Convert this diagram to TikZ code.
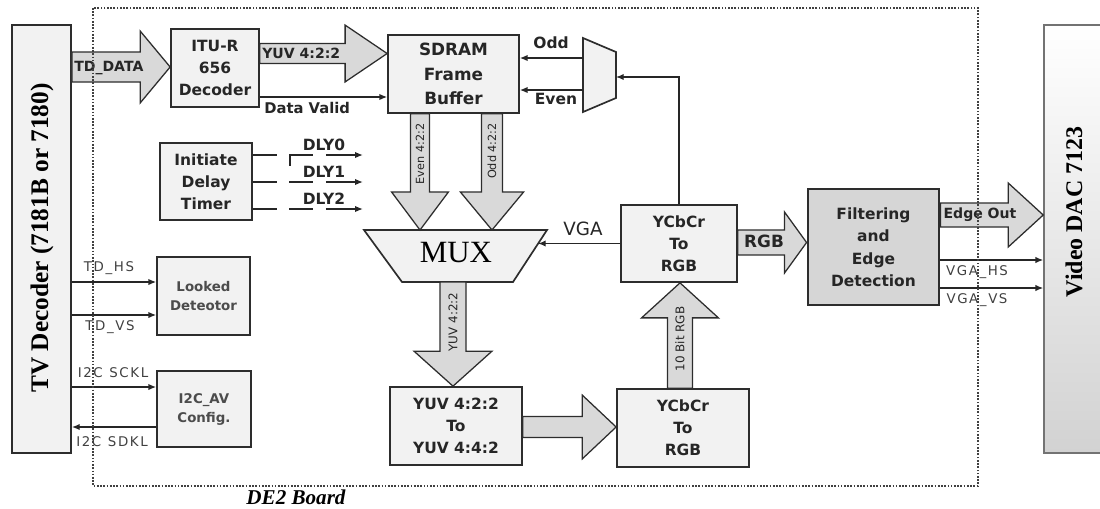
\documentclass[tikz,border=0pt]{standalone}
\usepackage{fontspec}
\setmainfont{Liberation Serif}
\newfontfamily\blkfont{DejaVu Sans}
\newfontfamily\thinfont[LetterSpace=12]{DejaVu Sans}
\usetikzlibrary{arrows.meta, calc}
\definecolor{blkgray}{RGB}{242, 242, 242}
\definecolor{arrgray}{RGB}{217, 217, 217}
\definecolor{filtgray}{RGB}{214, 214, 214}
\definecolor{edgegray}{RGB}{45, 45, 45}
\definecolor{dacgray}{RGB}{210, 210, 210}

\begin{document}
\begin{tikzpicture}[x=0.025cm, y=-0.025cm, >={Latex[length=5.5pt, width=4.5pt]},
    blk/.style={draw=edgegray, line width=1.2pt, fill=blkgray, align=center, inner sep=0pt,
        text=black!85, font=\blkfont\bfseries\fontsize{11}{15.5}\selectfont},
    sig/.style={->, line width=0.9pt, draw=black!85},
    lbl/.style={inner sep=0pt, text=black!85, font=\blkfont\bfseries\fontsize{10}{12}\selectfont},
    tlbl/.style={inner sep=0pt, text=black!75, font=\thinfont\fontsize{9.5}{11}\selectfont},
    rlbl/.style={inner sep=0pt, rotate=90, text=black!85, font=\blkfont\fontsize{8}{9}\selectfont},
    fatarr/.style={draw=edgegray, line width=0.9pt, fill=arrgray, line join=miter},
    fat/.style n args={3}{to path={
        ($(\tikztostart)!#1!90:(\tikztotarget)$)
        -- ($(\tikztotarget)!#3!(\tikztostart)!#1!-90:(\tikztostart)$)
        -- ($(\tikztotarget)!#3!(\tikztostart)!#2!-90:(\tikztostart)$)
        -- (\tikztotarget)
        -- ($(\tikztotarget)!#3!(\tikztostart)!#2!90:(\tikztostart)$)
        -- ($(\tikztotarget)!#3!(\tikztostart)!#1!90:(\tikztostart)$)
        -- ($(\tikztostart)!#1!-90:(\tikztotarget)$) -- cycle}}]

\useasboundingbox (0,0) rectangle (1100,508);
\clip (0,0) rectangle (1100,508);

% ============================================================
% EXTREMOS: decodificador de TV y DAC de video
% ============================================================

\node[draw=edgegray, line width=1.3pt, fill=blkgray, inner sep=0pt,
      minimum width=1.475cm, minimum height=10.7cm] (tvdec) at (41.5,239) {};
\node[rotate=90, font=\bfseries\fontsize{18}{20}\selectfont] (tvlbl) at (42,238)
    {TV Decoder (7181B or 7180)};

\node[draw=black!55, line width=1.1pt, top color=white, bottom color=dacgray, inner sep=0pt,
      minimum width=1.6cm, minimum height=10.7cm] (dac) at (1076,239) {};
\node[rotate=90, font=\bfseries\fontsize{17}{19}\selectfont] (daclbl) at (1074,212)
    {Video DAC 7123};

% ============================================================
% BLOQUES
% ============================================================

\node[blk, minimum width=2.2cm, minimum height=1.95cm] (itu) at (215,68) {ITU-R\\656\\Decoder};
\node[blk, minimum width=3.275cm, minimum height=1.95cm,
      font=\blkfont\bfseries\fontsize{12}{17.5}\selectfont] (sdram) at (453.5,74) {SDRAM\\Frame\\Buffer};
\node[blk, minimum width=2.3cm, minimum height=1.925cm] (timer) at (206,181.5) {Initiate\\Delay\\Timer};
\node[blk, minimum width=2.325cm, minimum height=1.95cm, text=black!70,
      font=\blkfont\bfseries\fontsize{9.5}{14}\selectfont] (lock) at (203.5,296) {Looked\\Deteotor};
\node[blk, minimum width=2.35cm, minimum height=1.9cm, text=black!70,
      font=\blkfont\bfseries\fontsize{9.5}{13.5}\selectfont] (i2c) at (204,409) {I2C\_AV\\Config.};
\node[blk, minimum width=2.9cm, minimum height=1.925cm] (ycca) at (679,243.5) {YCbCr\\To\\RGB};
\node[blk, minimum width=3.3cm, minimum height=1.95cm] (yuvc) at (456,426) {YUV 4:2:2\\To\\YUV 4:4:2};
\node[blk, minimum width=3.3cm, minimum height=1.95cm] (yccb) at (683,428) {YCbCr\\To\\RGB};
\node[blk, fill=filtgray, line width=2pt, minimum width=3.275cm, minimum height=2.9cm,
      font=\blkfont\bfseries\fontsize{11}{16}\selectfont] (filt) at (873.5,247)
    {Filtering\\and\\Edge\\Detection};

% Demultiplexor par/impar
\draw[draw=edgegray, line width=1.2pt, fill=blkgray]
    (583,38) -- (616,52) -- (616,98) -- (583,112) -- cycle;
\coordinate (dmxodd) at (583,58);
\coordinate (dmxeven) at (583,90);
\coordinate (dmxin) at (616,77);

% MUX
\draw[draw=edgegray, line width=1.2pt, fill=blkgray]
    (364,230) -- (547,230) -- (513,282) -- (402,282) -- cycle;
\node[font=\fontsize{22}{24}\selectfont] (mux) at (456,253) {MUX};
\coordinate (muxr) at (538,243.5);

% ============================================================
% FLECHAS ANCHAS (buses)
% ============================================================

\draw[fatarr] (tvdec.east |- 0,67) to[fat={0.375cm}{0.9cm}{0.75cm}] (itu.west |- 0,67);
\draw[fatarr] (itu.east |- 0,53.5) to[fat={0.25cm}{0.71cm}{1.05cm}] (sdram.west |- 0,53.5);
\draw[fatarr] (sdram.south -| 420,0) to[fat={0.24cm}{0.71cm}{0.95cm}] (420,230);
\draw[fatarr] (sdram.south -| 492,0) to[fat={0.26cm}{0.79cm}{0.95cm}] (492,230);
\draw[fatarr] (453,282) to[fat={0.325cm}{0.975cm}{0.875cm}] (yuvc.north -| 453,0);
\draw[fatarr] (yuvc.east |- 0,427) to[fat={0.26cm}{0.8cm}{0.85cm}] (yccb.west |- 0,427);
\draw[fatarr] (yccb.north -| 680,0) to[fat={0.31cm}{0.96cm}{0.875cm}] (ycca.south -| 680,0);
\draw[fatarr] (ycca.east |- 0,242.5) to[fat={0.31cm}{0.76cm}{0.55cm}] (filt.west |- 0,242.5);
\draw[fatarr] (filt.east |- 0,215) to[fat={0.3cm}{0.8cm}{0.875cm}] (dac.west |- 0,215);

% Etiquetas de buses
\node[lbl, anchor=west] (lbltd) at (74,68) {TD\_DATA};
\node[lbl, anchor=west] (lblyuv) at (262,53) {YUV 4:2:2};
\node[rlbl] (lbleven) at (420,154) {Even 4:2:2};
\node[rlbl] (lblodd) at (492,151) {Odd 4:2:2};
\node[rlbl, font=\blkfont\fontsize{8.5}{10}\selectfont] (lblmux) at (453,322) {YUV 4:2:2};
\node[rlbl, font=\blkfont\fontsize{8.5}{10}\selectfont] (lblbit) at (680,339) {10 Bit RGB};
\node[lbl, font=\blkfont\bfseries\fontsize{12}{14}\selectfont] (lblrgb) at (764,241) {RGB};
\node[lbl] (lbledge) at (980,215) {Edge Out};

% ============================================================
% SENALES
% ============================================================

\draw[sig] (itu.east |- 0,97) -- (sdram.west |- 0,97);
\node[lbl, anchor=west, font=\blkfont\bfseries\fontsize{10.5}{12}\selectfont] (lbldv) at (264,108) {Data Valid};

\draw[sig] (dmxodd) -- (sdram.east |- dmxodd);
\draw[sig] (dmxeven) -- (sdram.east |- dmxeven);
\node[lbl, font=\blkfont\bfseries\fontsize{11}{12}\selectfont] (lblo) at (551,43) {Odd};
\node[lbl, font=\blkfont\bfseries\fontsize{11}{12}\selectfont] (lble) at (556,99) {Even};
\draw[sig] (ycca.north) |- (dmxin);

\draw[sig] (ycca.west) -- (muxr);
\node[lbl, font=\blkfont\fontsize{13}{14}\selectfont] (lblvga) at (583,229) {VGA};

% Lineas de retardo
\foreach \yy/\nm in {155/0, 182/1, 209/2} {
    \draw[sig, dash pattern=on 17pt off 9pt on 17pt off 9pt on 40pt] (timer.east |- 0,\yy) -- ++(110,0);
    \node[lbl, font=\blkfont\bfseries\fontsize{11}{12}\selectfont] (dly\nm) at (324,\yy-10.5) {DLY\nm};
}
\draw[line width=0.9pt, draw=black!85] (290,155) -- (290,166);

% Sincronismo e I2C
\draw[sig] (tvdec.east |- 0,282) -- (lock.west |- 0,282);
\draw[sig] (tvdec.east |- 0,315) -- (lock.west |- 0,315);
\node[tlbl] (lblhs) at (109,268) {TD\_HS};
\node[tlbl] (lblvs) at (110,327) {TD\_VS};
\draw[sig] (tvdec.east |- 0,387) -- (i2c.west |- 0,387);
\draw[sig] (i2c.west |- 0,427) -- (tvdec.east |- 0,427);
\node[tlbl] (lblsck) at (113,373) {I2C\enspace SCKL};
\node[tlbl] (lblsdk) at (112,442) {I2C\enspace SDKL};

% Salida VGA
\draw[sig] (filt.east |- 0,260) -- (dac.west |- 0,260);
\draw[sig] (filt.east |- 0,288) -- (dac.west |- 0,288);
\node[tlbl] (lblvhs) at (977,272) {VGA\_HS};
\node[tlbl] (lblvvs) at (977,300) {VGA\_VS};

% ============================================================
% PLACA DE2 (borde punteado)
% ============================================================

\draw[black!75, line width=0.8pt, dash pattern=on 1.2pt off 1.1pt] (93,8) rectangle (978,486);
\node[font=\bfseries\itshape\fontsize{15}{17}\selectfont] (board) at (296,497) {DE2 Board};

\end{tikzpicture}
\end{document}
